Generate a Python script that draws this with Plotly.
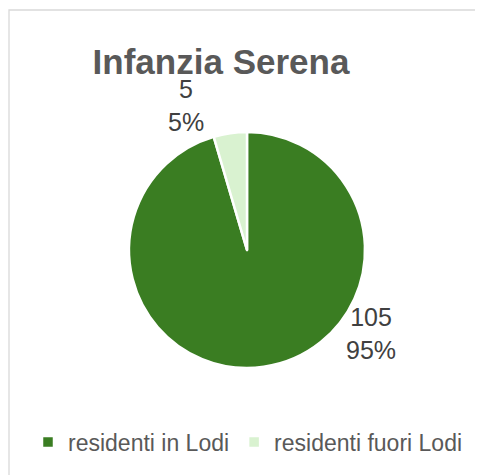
import plotly.graph_objects as go

# dati
categorie = ["residenti in Lodi", "residenti fuori Lodi"]
valori = [105, 5]
colori = ["#3a7d22", "#d9f2d0"]
titolo = "Infanzia Serena"

W, H = 483, 475
OFF = 8  # margine della pagina html (body) da compensare


def px(x):
    return (x - OFF) / W


def py(y):
    return 1 - (y - OFF) / H


totale = sum(valori)

fig = go.Figure()

fig.add_trace(go.Pie(
    labels=categorie,
    values=valori,
    marker=dict(colors=colori, line=dict(color="white", width=2.5)),
    sort=False,
    direction="clockwise",
    rotation=0,
    textinfo="none",
    hoverinfo="skip",
    domain=dict(x=[px(129), px(365)], y=[py(368), py(132)]),
))

# etichette dati (valore + percentuale), posizionate come nell'originale
pos_etichette = [(371, 333), (186, 105)]
for v, (x, y) in zip(valori, pos_etichette):
    fig.add_annotation(
        text=f"{v}<br>{round(v / totale * 100)}%",
        x=px(x), y=py(y), xref="paper", yref="paper",
        xanchor="center", yanchor="middle", showarrow=False,
        font=dict(family="Liberation Sans", size=25, color="#404040"),
    )

# cornice dell'area del grafico
fig.add_shape(type="rect", xref="paper", yref="paper",
              x0=px(9), y0=py(10), x1=1.2, y1=-0.2,
              line=dict(color="#d9d9d9", width=1.3))

fig.update_layout(
    width=W, height=H,
    margin=dict(l=0, r=0, t=0, b=0),
    paper_bgcolor="white",
    plot_bgcolor="white",
    title=dict(text=titolo, x=px(221), y=py(62),
               xanchor="center", yanchor="middle",
               font=dict(family="Liberation Sans", size=35, color="#595959", weight="bold")),
    showlegend=True,
    legend=dict(orientation="h", x=px(248), y=py(442),
                xanchor="center", yanchor="middle",
                font=dict(family="Liberation Sans", size=23, color="#595959"),
                traceorder="normal"),
)

fig.write_html("out.html")
